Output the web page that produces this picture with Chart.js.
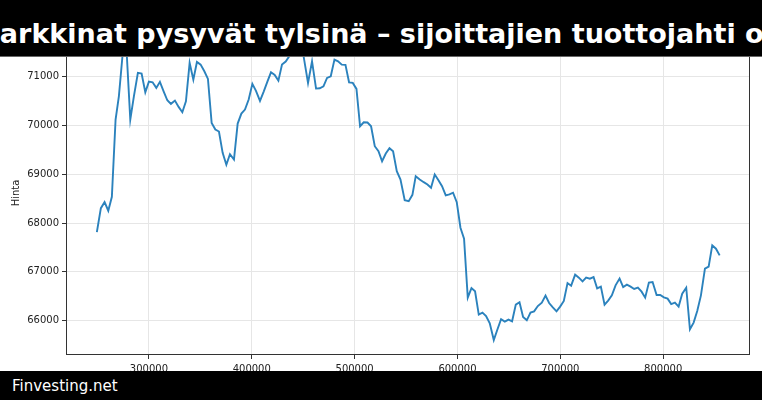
<!DOCTYPE html>
<html>
<head>
<meta charset="utf-8">
<script src="https://cdn.jsdelivr.net/npm/chart.js@4.4.0/dist/chart.umd.min.js"></script>
<style>
html,body{margin:0;padding:0;background:#fff;width:762px;height:400px;overflow:hidden;}
#wrap{position:relative;width:762px;height:400px;}
#c{position:absolute;left:0;top:0;}
#topbar{position:absolute;left:0;top:0;width:762px;height:56px;background:#000;border-bottom:1px solid #666;overflow:hidden;}
#title{position:absolute;left:-27px;top:18px;white-space:nowrap;font-family:"DejaVu Sans";font-weight:bold;font-size:27px;line-height:normal;color:#fff;}
#botbar{position:absolute;left:0;top:371px;width:762px;height:29px;background:#000;overflow:hidden;}
#brand{position:absolute;left:12px;top:6px;white-space:nowrap;font-family:"DejaVu Sans";font-size:15px;line-height:normal;color:#fff;}
</style>
</head>
<body>
<div id="wrap">
  <canvas id="c" width="762" height="400"></canvas>
  <div id="topbar"><span id="title">Markkinat pysyvät tylsinä – sijoittajien tuottojahti o</span></div>
  <div id="botbar"><span id="brand">Finvesting.net</span></div>
</div>
<script>
const xs = [
249400, 253300, 256900, 260500, 264000, 267600, 270800, 274400, 278000, 281900,
285400, 289300, 292900, 296500, 300000, 303600, 307200, 310700, 314300, 317900,
321400, 325300, 328900, 332500, 336000, 339600, 343200, 346700, 350300, 353900,
357400, 361000, 364600, 368100, 371700, 375300, 378800, 382700, 386300, 389900,
393400, 397000, 400600, 404100, 408000, 411600, 415200, 418700, 422300, 425900,
429400, 433000, 436600, 440100, 443700, 447300, 450500, 454700, 458600, 462500,
466100, 469700, 473200, 476800, 480400, 483900, 487500, 491100, 494600, 498200,
501800, 505300, 508900, 512500, 516000, 519600, 523200, 526700, 530300, 533900,
537400, 541000, 544600, 548700, 552600, 556200, 559400, 563300, 567200, 570800,
574300, 577900, 581500, 585000, 588600, 592200, 595700, 599300, 602900, 606400,
610000, 613600, 617100, 620700, 624300, 627800, 631400, 635300, 638900, 642400,
646000, 649600, 653100, 656700, 660300, 663800, 667400, 671000, 674500, 678100,
682000, 685600, 689100, 692700, 696300, 699800, 703400, 707000, 710500, 714400,
718000, 721600, 725100, 728700, 732300, 735800, 739400, 743000, 746500, 750100,
753700, 757600, 761100, 764700, 768300, 771800, 775400, 779000, 782500, 786100,
789700, 793600, 797100, 800700, 804300, 807800, 811400, 815000, 818500, 822400,
826000, 829600, 833100, 836700, 840600, 844200, 847700, 851300, 854900
];
const prices = [
67816, 68307, 68430, 68254, 68541, 70125, 70602, 71450, 71650, 70125,
70602, 71082, 71068, 70684, 70904, 70890, 70775, 70898, 70705, 70520,
70447, 70514, 70385, 70275, 70500, 71287, 70945, 71307, 71252, 71115,
70959, 70057, 69920, 69879, 69443, 69197, 69414, 69305, 70043, 70248,
70330, 70535, 70857, 70713, 70508, 70699, 70904, 71094, 71041, 70924,
71252, 71314, 71430, 71600, 71757, 71600, 71410, 70877, 71320, 70760,
70766, 70807, 70980, 71012, 71355, 71320, 71252, 71246, 70889, 70877,
70754, 69988, 70070, 70064, 69988, 69578, 69475, 69270, 69428, 69537,
69475, 69066, 68895, 68471, 68451, 68580, 68963, 68895, 68840, 68793,
68725, 68998, 68881, 68758, 68568, 68588, 68623, 68430, 67906, 67680,
66471, 66668, 66600, 66123, 66164, 66094, 65945, 65602, 65822, 66027,
65980, 66020, 65986, 66328, 66375, 66074, 66006, 66164, 66190, 66299,
66369, 66512, 66361, 66273, 66190, 66287, 66402, 66771, 66717, 66943,
66881, 66805, 66881, 66861, 66893, 66662, 66697, 66328, 66410, 66518,
66723, 66861, 66689, 66738, 66697, 66648, 66676, 66594, 66471, 66779,
66791, 66525, 66525, 66477, 66451, 66340, 66369, 66287, 66553, 66676,
65822, 65959, 66197, 66518, 67066, 67107, 67543, 67475, 67338
];
const xTicks = [300000, 400000, 500000, 600000, 700000, 800000];
const yTicks = [66000, 67000, 68000, 69000, 70000, 71000, 72000];
const yTitle = 'Hinta';

Chart.defaults.font.family = '"DejaVu Sans"';
Chart.defaults.font.size = 10;
Chart.defaults.color = '#222';

const spines = {
  id: 'spines',
  afterDraw(chart) {
    const a = chart.chartArea, g = chart.ctx;
    g.save();
    g.strokeStyle = '#333';
    g.lineWidth = 1;
    const l = Math.round(a.left) + 0.5, r = Math.round(a.right) - 0.5;
    const t = Math.round(a.top) + 0.5, b = Math.round(a.bottom) - 0.5;
    g.strokeRect(l, t, r - l, b - t);
    g.fillStyle = '#222';
    g.font = '10px "DejaVu Sans"';
    g.textAlign = 'center';
    g.textBaseline = 'middle';
    g.translate(16, 193);
    g.rotate(-Math.PI / 2);
    g.fillText(yTitle, 0, 0);
    g.restore();
  }
};

new Chart(document.getElementById('c'), {
  type: 'line',
  data: {
    datasets: [{
      data: xs.map((x, i) => ({x: x, y: prices[i]})),
      borderColor: '#2b82bd',
      borderWidth: 1.9,
      pointRadius: 0,
      tension: 0,
      fill: false
    }]
  },
  options: {
    responsive: false,
    animation: false,
    layout: {padding: {left: 0, right: 12, top: 25, bottom: 0}},
    plugins: {legend: {display: false}, tooltip: {enabled: false}},
    scales: {
      x: {
        type: 'linear',
        min: 219400,
        max: 884400,
        afterBuildTicks: s => { s.ticks = xTicks.map(v => ({value: v})); },
        afterFit: s => { s.height = 45; },
        ticks: {callback: v => String(v), maxRotation: 0, autoSkip: false, padding: 4, color: '#222'},
        grid: {color: '#e6e6e6', lineWidth: 1, tickColor: '#333', tickLength: 4},
        border: {display: false}
      },
      y: {
        type: 'linear',
        min: 65294,
        max: 72065,
        afterBuildTicks: s => { s.ticks = yTicks.map(v => ({value: v})); },
        afterFit: s => { s.width = 66; },
        ticks: {callback: v => String(v), padding: 3, color: '#222'},
        grid: {color: '#e6e6e6', lineWidth: 1, tickColor: '#333', tickLength: 4},
        border: {display: false}
      }
    }
  },
  plugins: [spines]
});
</script>
</body>
</html>
